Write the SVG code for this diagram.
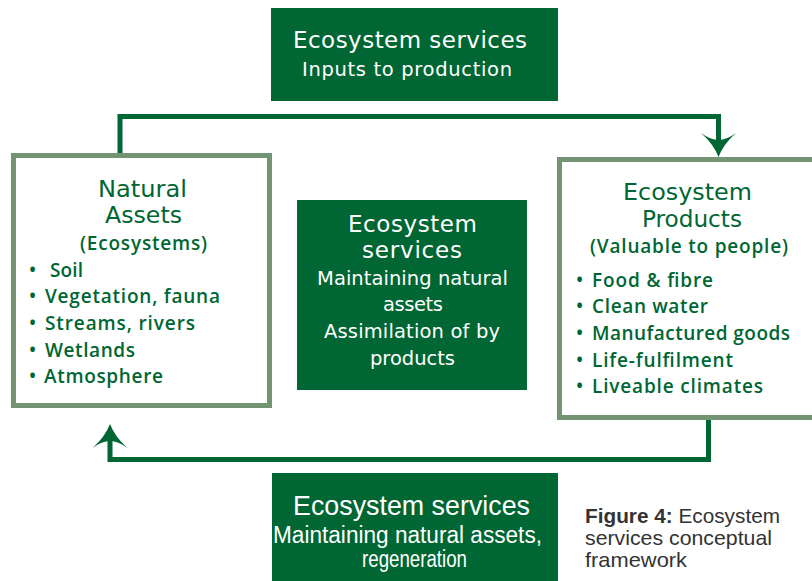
<svg xmlns="http://www.w3.org/2000/svg" width="812" height="581" viewBox="0 0 812 581">
<defs>
<style>
.svc{fill:#006633}
.frame{fill:#fff;stroke:#739473;stroke-width:5}
.conn{fill:none;stroke:#006633;stroke-width:5}
.w{fill:#fff;font-family:"DejaVu Sans","Open Sans",sans-serif;text-anchor:middle}
.wn{fill:#fff;font-family:"Liberation Sans",sans-serif;text-anchor:middle}
.g{fill:#006633;font-family:"Open Sans","DejaVu Sans",sans-serif;font-weight:600}
.gc{text-anchor:middle}
.gt{font-family:"DejaVu Sans","Open Sans",sans-serif;font-weight:normal;font-size:23.5px}
.t1{font-size:23px}
.t2{font-size:19.5px}
.b{font-size:19px}
.cap{fill:#333;font-family:"Liberation Sans",sans-serif;font-size:21px}
</style>
<marker id="arr" markerUnits="userSpaceOnUse" markerWidth="30" markerHeight="40" viewBox="0 -20 30 40" refX="7" refY="0" orient="auto">
<path d="M24,0 Q11,-5 0,-17.5 Q7,-8 7,0 Q7,8 0,17.5 Q11,5 24,0 Z" fill="#006633"/>
</marker>
</defs>
<rect width="812" height="581" fill="#fff"/>

<g id="connectors">
<path class="conn" d="M120,153 V116.5 H718.5 V140" marker-end="url(#arr)"/>
<path class="conn" d="M708.5,420 V459.5 H110 V441" marker-end="url(#arr)"/>
</g>

<g id="services-inputs">
<rect class="svc" x="271" y="8" width="287" height="93"/>
<text class="w t1" x="410" y="48" textLength="234">Ecosystem services</text>
<text class="w t2" x="407" y="76" textLength="210">Inputs to production</text>
</g>

<g id="natural-assets">
<rect class="frame" x="13.5" y="155.5" width="256" height="250"/>
<text class="g gc gt" x="142.5" y="197" textLength="89" lengthAdjust="spacingAndGlyphs">Natural</text>
<text class="g gc gt" x="143.5" y="223" textLength="77" lengthAdjust="spacingAndGlyphs">Assets</text>
<text class="g gc b" x="143.5" y="250" textLength="127">(Ecosystems)</text>
<text class="g b" x="29" y="277">•</text><text class="g b" x="50" y="277" textLength="33">Soil</text>
<text class="g b" x="29" y="303">•</text><text class="g b" x="45" y="303" textLength="175">Vegetation, fauna</text>
<text class="g b" x="29" y="330">•</text><text class="g b" x="45" y="330" textLength="150">Streams, rivers</text>
<text class="g b" x="29" y="357">•</text><text class="g b" x="45" y="357" textLength="90">Wetlands</text>
<text class="g b" x="29" y="383">•</text><text class="g b" x="44" y="383" textLength="119">Atmosphere</text>
</g>

<g id="services-maintaining">
<rect class="svc" x="297" y="200" width="230" height="190"/>
<text class="w t1" x="412.5" y="232" textLength="129">Ecosystem</text>
<text class="w t1" x="412" y="258" textLength="100">services</text>
<text class="w t2" x="412.5" y="285" textLength="191">Maintaining natural</text>
<text class="w t2" x="413" y="311" textLength="60">assets</text>
<text class="w t2" x="412" y="338" textLength="176">Assimilation of by</text>
<text class="w t2" x="412.5" y="365" textLength="85">products</text>
</g>

<g id="ecosystem-products">
<rect class="frame" x="559.5" y="159.5" width="262" height="258"/>
<text class="g gc gt" x="687.5" y="200" textLength="129" lengthAdjust="spacingAndGlyphs">Ecosystem</text>
<text class="g gc gt" x="692" y="227" textLength="100" lengthAdjust="spacingAndGlyphs">Products</text>
<text class="g gc b" x="689" y="253" textLength="198">(Valuable to people)</text>
<text class="g b" x="576" y="287">•</text><text class="g b" x="592" y="287" textLength="121">Food &amp; fibre</text>
<text class="g b" x="576" y="313">•</text><text class="g b" x="592" y="313" textLength="116">Clean water</text>
<text class="g b" x="576" y="340">•</text><text class="g b" x="592" y="340" textLength="198">Manufactured goods</text>
<text class="g b" x="576" y="367">•</text><text class="g b" x="592" y="367" textLength="141">Life-fulfilment</text>
<text class="g b" x="576" y="393">•</text><text class="g b" x="592" y="393" textLength="171">Liveable climates</text>
</g>

<g id="services-regeneration">
<rect class="svc" x="272" y="473" width="286" height="108"/>
<text class="wn" x="411.5" y="515" font-size="28" textLength="237" lengthAdjust="spacingAndGlyphs">Ecosystem services</text>
<text class="wn" x="407.5" y="543" font-size="23" textLength="269" lengthAdjust="spacingAndGlyphs">Maintaining natural assets,</text>
<text class="wn" x="414.5" y="567" font-size="23" textLength="105" lengthAdjust="spacingAndGlyphs">regeneration</text>
</g>

<g id="caption">
<text class="cap" x="585" y="523" textLength="195" lengthAdjust="spacingAndGlyphs"><tspan font-weight="bold">Figure 4:</tspan> Ecosystem</text>
<text class="cap" x="585" y="545" textLength="187" lengthAdjust="spacingAndGlyphs">services conceptual</text>
<text class="cap" x="585" y="567" textLength="102" lengthAdjust="spacingAndGlyphs">framework</text>
</g>
</svg>
